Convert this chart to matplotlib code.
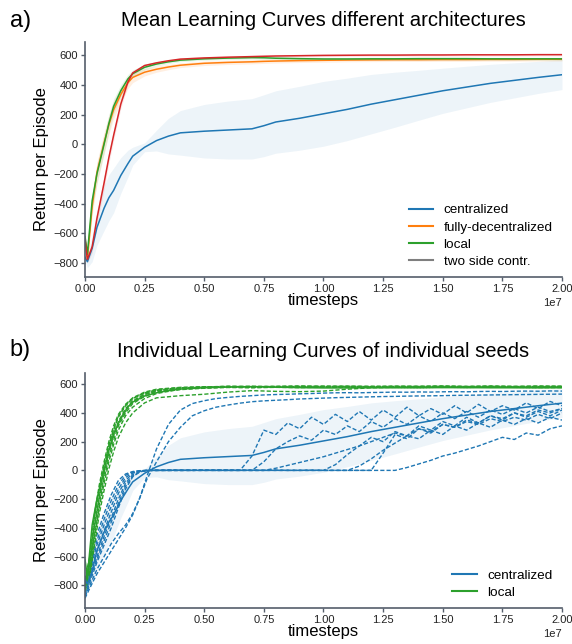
import numpy as np
import matplotlib.pyplot as plt
from matplotlib.lines import Line2D

plt.rcParams['font.family'] = ['Liberation Sans', 'DejaVu Sans']

# ---- mean curves (timesteps in units of 1e7) ----
t_mean = [0, 0.01, 0.03, 0.05, 0.08, 0.1, 0.12, 0.15, 0.18, 0.2, 0.25, 0.3, 0.35,
          0.4, 0.5, 0.6, 0.7, 0.75, 0.8, 0.9, 1.0, 1.1, 1.2, 1.3, 1.4, 1.5, 1.6,
          1.7, 1.8, 1.9, 2.0]

cent_mean = [-760, -790, -700, -560, -430, -360, -310, -210, -130, -80, -20, 25, 55,
             77, 88, 96, 104, 125, 150, 175, 205, 235, 270, 300, 330, 360, 385,
             410, 430, 450, 468]
cent_std = [20, 40, 90, 120, 150, 155, 150, 120, 90, 60, 30, 70, 120,
            150, 180, 195, 203, 208, 210, 215, 218, 210, 200, 185, 168, 152, 140,
            128, 118, 108, 100]

fdec_mean = [-640, -770, -420, -190, 10, 130, 232, 335, 415, 450, 485, 505, 520,
             532, 545, 551, 555, 558, 560, 563, 565, 567, 568, 569, 569, 570, 570,
             571, 571, 572, 572]
fdec_std = [20, 30, 60, 70, 70, 65, 60, 50, 40, 35, 25, 20, 18,
            16, 15, 14, 14, 14, 13, 13, 13, 12, 12, 12, 12, 12, 12,
            12, 12, 12, 12]

local_mean = [-620, -740, -380, -200, 0, 140, 255, 360, 440, 475, 518, 540, 555,
              566, 575, 580, 583, 582, 579, 576, 574, 574, 575, 575, 576, 576, 576,
              575, 575, 575, 575]
local_std = [20, 30, 60, 70, 65, 60, 50, 40, 30, 25, 18, 14, 12,
             10, 10, 10, 10, 10, 10, 10, 10, 10, 10, 10, 10, 10, 10,
             10, 10, 10, 10]

twoside_mean = [-640, -775, -690, -500, -260, -90, 60, 270, 420, 480, 530, 548, 562,
                573, 581, 586, 590, 592, 594, 596, 598, 599, 600, 600, 601, 601, 602,
                602, 602, 603, 603]
twoside_std = [15, 25, 40, 45, 45, 40, 35, 30, 20, 15, 10, 8, 8,
               8, 8, 8, 8, 8, 8, 8, 8, 8, 8, 8, 8, 8, 8,
               8, 8, 8, 8]

# ---- individual seeds, centralized ----
t_cent_seed = [0, 0.02, 0.05, 0.08, 0.11, 0.14, 0.17, 0.2, 0.23, 0.26,
               0.3, 0.35, 0.4, 0.45, 0.5, 0.55, 0.6, 0.65, 0.7, 0.75, 0.8, 0.85,
               0.9, 0.95, 1.0, 1.05, 1.1, 1.15, 1.2, 1.25, 1.3, 1.35, 1.4, 1.45,
               1.5, 1.55, 1.6, 1.65, 1.7, 1.75, 1.8, 1.85, 1.9, 1.95, 2.0]

cent_seeds = [
    # slow start, then climbing straight away
    [-880, -800, -690, -600, -510, -440, -380, -300, -190, -40,
     150, 320, 420, 465, 485, 500, 508, 515, 520, 525, 528, 530,
     533, 535, 538, 540, 541, 540, 542, 543, 545, 544, 546, 545,
     547, 548, 547, 549, 550, 549, 551, 552, 551, 553, 552],
    [-890, -820, -720, -640, -560, -480, -400, -310, -190, -60,
     60, 200, 300, 380, 415, 440, 455, 468, 478, 484, 488, 492,
     497, 500, 503, 506, 508, 510, 512, 514, 515, 517, 518, 519,
     520, 522, 523, 524, 525, 526, 527, 528, 529, 530, 531],
    # plateau at zero, then jumping at different times
    [-820, -700, -520, -380, -250, -130, -50, -15, -5, 0,
     0, 0, 0, 0, 2, 0, 3, 0, 100, 280, 250, 330,
     290, 370, 320, 390, 340, 410, 350, 420, 370, 440, 380, 430,
     390, 450, 400, 460, 410, 450, 420, 470, 430, 480, 450],
    [-850, -750, -600, -460, -330, -200, -90, -30, -8, 0,
     0, 2, 0, 0, 0, 3, 0, 0, 0, 60, 150, 200,
     240, 210, 280, 250, 310, 270, 340, 300, 360, 320, 380, 340,
     400, 360, 410, 370, 420, 390, 430, 400, 440, 410, 430],
    [-800, -650, -450, -300, -170, -70, -25, -8, -3, 0,
     0, 0, 0, 2, 0, 0, 0, 2, 0, 0, 15, 35,
     55, 75, 95, 120, 145, 170, 200, 230, 260, 240, 290, 270,
     320, 300, 340, 320, 360, 340, 370, 350, 390, 360, 400],
    [-870, -780, -640, -520, -400, -260, -130, -45, -10, 0,
     0, 0, 2, 0, 0, 0, 0, 0, 2, 0, 0, 0,
     0, 2, 0, 40, 110, 170, 230, 200, 270, 240, 310, 280,
     340, 310, 370, 330, 380, 350, 400, 370, 410, 380, 420],
    [-830, -720, -560, -420, -290, -160, -70, -20, -5, 0,
     0, 0, 0, 0, 2, 0, 0, 0, 0, 0, 2, 0,
     0, 0, 0, 0, 0, 30, 80, 140, 190, 240, 220, 280,
     250, 310, 280, 330, 300, 350, 320, 360, 330, 370, 350],
    [-810, -680, -490, -340, -210, -100, -35, -10, -2, 0,
     0, 0, 0, 0, 0, 0, 0, 0, 0, 0, 0, 0,
     0, 0, 0, 0, 0, 0, 0, 0, 0, 20, 45, 70,
     100, 120, 145, 170, 200, 230, 215, 260, 245, 290, 310],
    [-860, -760, -620, -490, -360, -230, -110, -40, -10, 0,
     0, 0, 0, 0, 0, 0, 0, 0, 0, 0, 0, 0,
     0, 0, 0, 0, 0, 0, 0, 120, 250, 220, 290, 260,
     320, 300, 350, 330, 380, 360, 400, 380, 420, 400, 430],
]

# ---- individual seeds, local ----
t_local_seed = [0, 0.02, 0.04, 0.06, 0.08, 0.1, 0.12, 0.14, 0.17, 0.2, 0.25, 0.3,
                0.4, 0.5, 0.6, 0.7, 0.8, 0.9, 1.0, 1.1, 1.2, 1.3, 1.4, 1.5, 1.6,
                1.7, 1.8, 1.9, 2.0]

local_seeds = [
    [-760, -600, -300, -100, 60, 200, 310, 390, 460, 505, 545, 565,
     578, 582, 583, 581, 584, 582, 583, 585, 582, 584, 583, 585, 583,
     584, 582, 585, 583],
    [-800, -680, -420, -200, -30, 120, 240, 330, 420, 480, 530, 555,
     572, 578, 580, 583, 579, 582, 580, 583, 581, 579, 582, 580, 583,
     581, 580, 582, 580],
    [-780, -640, -360, -150, 20, 170, 280, 370, 450, 500, 540, 560,
     575, 580, 586, 582, 585, 588, 584, 586, 583, 587, 585, 586, 584,
     587, 585, 584, 586],
    [-820, -720, -480, -260, -90, 60, 180, 280, 380, 440, 500, 535,
     565, 576, 580, 578, 581, 579, 582, 580, 578, 581, 579, 582, 580,
     578, 581, 579, 580],
    [-770, -620, -330, -120, 40, 180, 290, 380, 455, 500, 538, 558,
     574, 581, 584, 586, 583, 585, 587, 584, 586, 583, 585, 587, 584,
     586, 584, 587, 585],
    [-840, -740, -520, -300, -140, 10, 130, 230, 330, 400, 470, 505,
     520, 530, 545, 555, 550, 548, 552, 565, 575, 578, 576, 579, 577,
     580, 578, 577, 579],
    [-790, -660, -390, -180, -10, 140, 250, 340, 430, 485, 528, 550,
     568, 576, 579, 577, 580, 583, 579, 581, 578, 582, 580, 578, 581,
     579, 582, 580, 578],
    [-810, -700, -450, -230, -60, 90, 210, 310, 400, 465, 515, 545,
     562, 572, 577, 575, 578, 576, 579, 577, 580, 578, 576, 579, 577,
     580, 578, 576, 577],
]

blue = '#1f77b4'
orange = '#ff7f0e'
green = '#2ca02c'
red = '#d62728'
spine_col = '#555e6b'

fig = plt.figure(figsize=(5.72, 6.44), dpi=100)
ax1 = fig.add_axes([0.1486, 0.5694, 0.8339, 0.3658])
ax2 = fig.add_axes([0.1486, 0.0554, 0.8339, 0.3659])

tm = np.array(t_mean) * 1e7


def band(ax, m, s, col, alpha):
    m = np.array(m)
    s = np.array(s)
    ax.fill_between(tm, m - s, m + s, color=col, alpha=alpha, lw=0)


# top: mean curves
band(ax1, cent_mean, cent_std, blue, 0.08)
band(ax1, fdec_mean, fdec_std, orange, 0.12)
band(ax1, local_mean, local_std, green, 0.10)
band(ax1, twoside_mean, twoside_std, red, 0.10)
ax1.plot(tm, cent_mean, color=blue, lw=1.1)
ax1.plot(tm, fdec_mean, color=orange, lw=1.1)
ax1.plot(tm, local_mean, color=green, lw=1.1)
ax1.plot(tm, twoside_mean, color=red, lw=1.1)

handles1 = [Line2D([], [], color=blue, lw=1.5), Line2D([], [], color=orange, lw=1.5),
            Line2D([], [], color=green, lw=1.5), Line2D([], [], color='#7f7f7f', lw=1.5)]
ax1.legend(handles1, ['centralized', 'fully-decentralized', 'local', 'two side contr.'],
           loc='lower right', frameon=False, fontsize=9.7, handlelength=1.8,
           labelspacing=0.35, borderaxespad=0.3)
ax1.set_ylim(-895, 690)
ax1.set_title('Mean Learning Curves different architectures', fontsize=14.6, pad=11)

# bottom: individual seeds
band(ax2, cent_mean, cent_std, blue, 0.08)
tc = np.array(t_cent_seed) * 1e7
tl = np.array(t_local_seed) * 1e7
for seed in cent_seeds:
    ax2.plot(tc, seed, color=blue, lw=1.0, ls=(0, (3, 1.5)))
for seed in local_seeds:
    ax2.plot(tl, seed, color=green, lw=1.0, ls=(0, (3, 1.5)))
ax2.plot(tm, cent_mean, color=blue, lw=1.1)
ax2.plot(tm, local_mean, color=green, lw=1.1)

handles2 = [Line2D([], [], color=blue, lw=1.5), Line2D([], [], color=green, lw=1.5)]
ax2.legend(handles2, ['centralized', 'local'], loc='lower right', frameon=False,
           fontsize=9.7, handlelength=1.8, labelspacing=0.35, borderaxespad=0.3)
ax2.set_ylim(-960, 680)
ax2.set_title('Individual Learning Curves of individual seeds', fontsize=14.6, pad=11)

for ax in (ax1, ax2):
    ax.set_xlim(0, 2e7)
    ax.set_xticks(np.arange(0, 2.01e7, 0.25e7))
    ax.set_yticks(np.arange(-800, 601, 200))
    ax.spines['top'].set_visible(False)
    ax.spines['right'].set_visible(False)
    for sp in ('left', 'bottom'):
        ax.spines[sp].set_color(spine_col)
        ax.spines[sp].set_linewidth(1.2)
    ax.tick_params(colors=spine_col, labelcolor='#222222', labelsize=8,
                   length=3, width=1.0, pad=2)
    ax.xaxis.get_offset_text().set_fontsize(8)
    ax.xaxis.get_offset_text().set_color('#222222')
    ax.set_xlabel('timesteps', fontsize=12, labelpad=-1)
    ax.set_ylabel('Return per Episode', fontsize=12, labelpad=3)

fig.text(0.017, 0.968, 'a)', fontsize=17, va='center')
fig.text(0.017, 0.457, 'b)', fontsize=17, va='center')

fig.savefig('out.png', dpi=100)
